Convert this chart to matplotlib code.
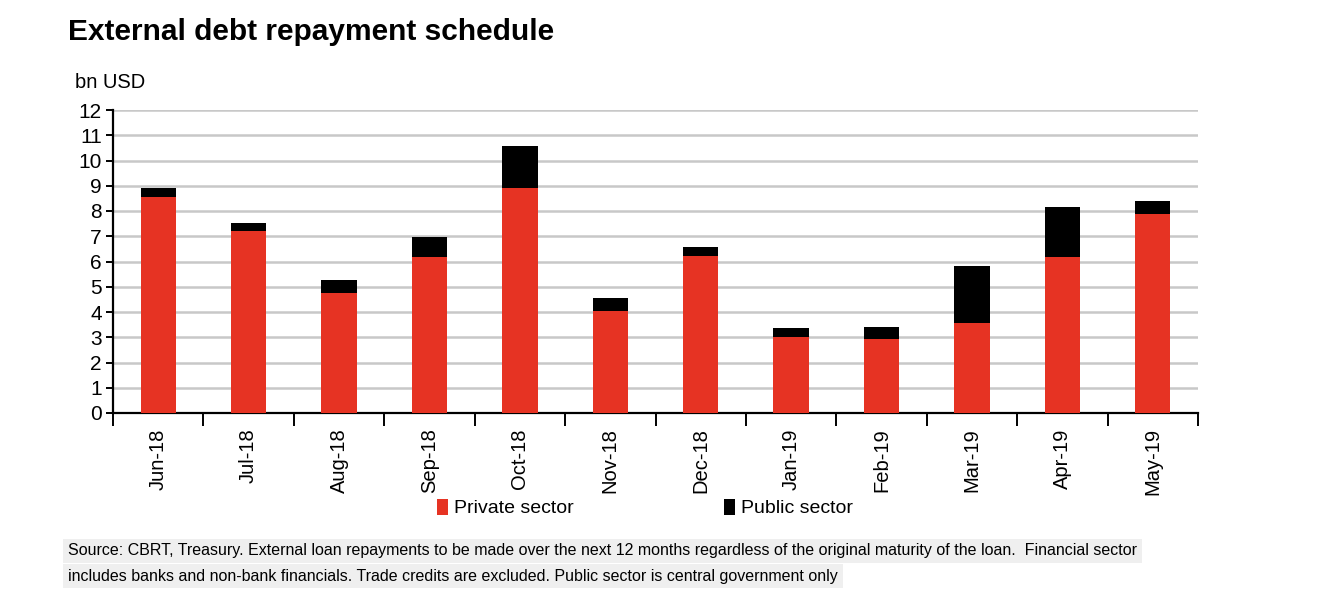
import matplotlib
matplotlib.use('Agg')
import matplotlib.pyplot as plt
import numpy as np

months = ['Jun-18', 'Jul-18', 'Aug-18', 'Sep-18', 'Oct-18', 'Nov-18',
          'Dec-18', 'Jan-19', 'Feb-19', 'Mar-19', 'Apr-19', 'May-19']
private = [8.54, 7.19, 4.76, 6.16, 8.91, 4.02, 6.20, 3.00, 2.95, 3.56, 6.19, 7.87]
public = [0.36, 0.34, 0.50, 0.81, 1.68, 0.55, 0.37, 0.35, 0.44, 2.28, 1.97, 0.53]
y_ticks = list(range(0, 13))

RED = '#e63323'
plt.rcParams['font.family'] = ['Liberation Sans', 'DejaVu Sans']

W, H = 1331, 602
fig = plt.figure(figsize=(W / 100, H / 100), dpi=100)
ax = fig.add_axes([113 / W, (H - 413) / H, (1198 - 113) / W, (413 - 110) / H])

x = np.arange(len(months))
ax.bar(x, private, width=0.39, color=RED, label='Private sector', zorder=3)
ax.bar(x, public, width=0.39, bottom=private, color='black', label='Public sector', zorder=3)

ax.set_xlim(-0.5, len(months) - 0.5)
ax.set_ylim(0, 12)
ax.set_yticks(y_ticks)
ax.yaxis.grid(True, color='#c8c8c8', linewidth=1.8, zorder=0)
ax.set_axisbelow(True)
for s in ['top', 'right']:
    ax.spines[s].set_visible(False)
for s in ['left', 'bottom']:
    ax.spines[s].set_linewidth(1.6)

ax.tick_params(axis='y', direction='out', length=5, width=1.4, labelsize=15, pad=3)
ax.set_xticks(x)
ax.set_xticklabels(months, rotation=90, fontsize=14.5)
ax.tick_params(axis='x', which='major', length=0, pad=11)
ax.set_xticks(np.arange(-0.5, len(months)), minor=True)
ax.tick_params(axis='x', which='minor', direction='out', length=9, width=1.4)

fig.text(68 / W, 1 - 32 / H, 'External debt repayment schedule', fontsize=21.5,
         fontweight='bold', va='center', ha='left')
fig.text(75 / W, 1 - 82 / H, 'bn USD', fontsize=14.5, va='center', ha='left')

fig.legend(loc='center', bbox_to_anchor=(645 / W, 1 - 508 / H), ncol=2, frameon=False,
           fontsize=14, handlelength=0.6, handleheight=0.9, handletextpad=0.3,
           columnspacing=7.7)

notes = ['Source: CBRT, Treasury. External loan repayments to be made over the next 12 months '
         'regardless of the original maturity of the loan.  Financial sector',
         'includes banks and non-bank financials. Trade credits are excluded. '
         'Public sector is central government only']
for i, line in enumerate(notes):
    fig.text(68 / W, 1 - (551 + i * 25) / H, line, fontsize=11.5, va='center', ha='left',
             bbox=dict(boxstyle='square,pad=0.3', facecolor='#efefef', edgecolor='none'))

fig.savefig('out.png', dpi=100, facecolor='white')
